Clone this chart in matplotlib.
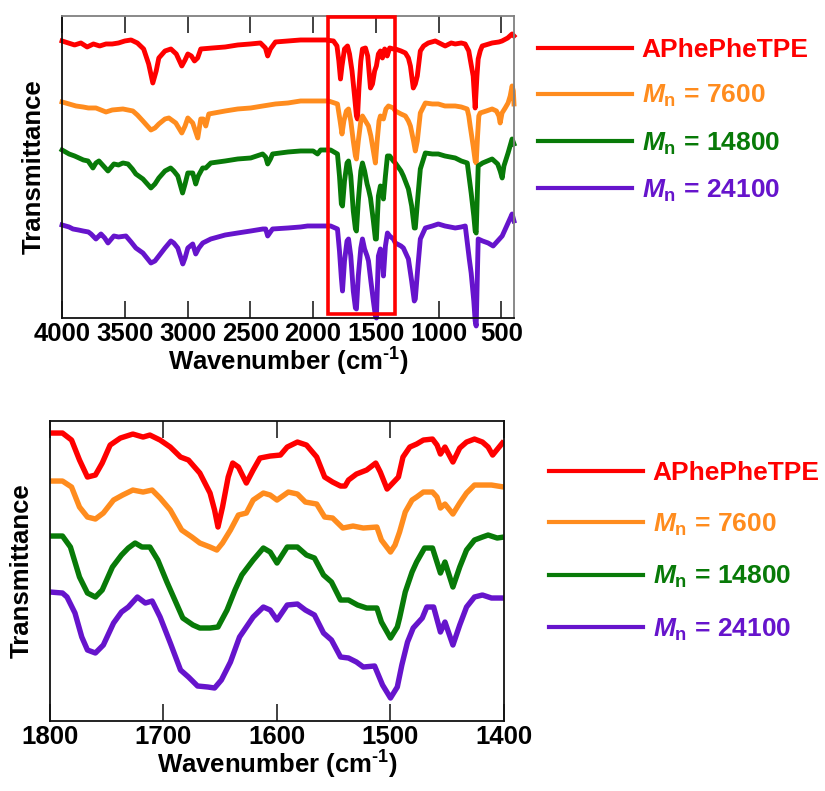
import matplotlib
matplotlib.use("Agg")
import matplotlib.pyplot as plt
from matplotlib.patches import Rectangle
from matplotlib.lines import Line2D
import numpy as np

plt.rcParams["font.family"] = ["Liberation Sans", "DejaVu Sans"]
plt.rcParams["font.weight"] = "bold"
plt.rcParams["mathtext.fontset"] = "custom"
plt.rcParams["mathtext.rm"] = "Liberation Sans:bold"
plt.rcParams["mathtext.bf"] = "Liberation Sans:bold"
plt.rcParams["mathtext.it"] = "Liberation Sans:italic:bold"

# ---- data: stacked FTIR spectra, values = offset depth below frame top (a.u.) ----
labels = ["APhePheTPE", r"$M_\mathrm{n}$ = 7600", r"$M_\mathrm{n}$ = 14800", r"$M_\mathrm{n}$ = 24100"]
colors = ["#FF0000", "#FF8C1E", "#087A08", "#6614CC"]

# full range 4000-400 cm-1
red_full_wn = [4000, 3950, 3900, 3850, 3800, 3750, 3700, 3650, 3600, 3550, 3500, 3450, 3400, 3350, 3310,
               3277, 3250, 3229, 3180, 3133, 3090, 3046, 3020, 2998, 2970, 2945, 2920, 2895, 2800, 2700,
               2600, 2500, 2420, 2380, 2362, 2340, 2300, 2200, 2100, 2000, 1900, 1838, 1810, 1795, 1782,
               1770, 1750, 1726, 1710, 1690, 1670, 1655, 1647, 1635, 1620, 1607, 1583, 1565, 1543, 1527,
               1510, 1496, 1480, 1464, 1448, 1430, 1410, 1390, 1361, 1345, 1300, 1265, 1241, 1225, 1202,
               1186, 1170, 1146, 1120, 1083, 1027, 948, 900, 868, 820, 789, 760, 749, 725, 709,
               695, 685, 669, 653, 600, 574, 520, 495, 450, 415, 400]
red_full = [25, 27, 29, 27, 31, 28, 30, 28, 28, 27, 25, 24, 27, 33, 48,
            67, 55, 42, 35, 33, 38, 50, 44, 38, 40, 45, 42, 33, 32, 31,
            29, 28, 27, 32, 40, 33, 26, 25, 24, 24, 24, 25, 30, 45, 63,
            50, 33, 30, 38, 55, 80, 100, 103, 72, 45, 33, 32, 40, 72, 68,
            55, 50, 38, 35, 42, 33, 40, 32, 33, 33, 35, 37, 42, 50, 72,
            68, 60, 35, 30, 27, 25, 30, 27, 28, 27, 28, 35, 43, 60, 92,
            60, 43, 35, 30, 28, 27, 26, 25, 22, 18, 20]

orange_full_wn = [4000, 3944, 3889, 3833, 3790, 3730, 3690, 3650, 3600, 3515, 3475, 3436, 3400, 3356, 3292,
                  3260, 3229, 3180, 3149, 3094, 3046, 3020, 2998, 2959, 2919, 2895, 2875, 2855, 2831, 2700,
                  2600, 2497, 2400, 2300, 2200, 2100, 2000, 1900, 1877, 1806, 1785, 1770, 1755, 1735, 1718,
                  1700, 1680, 1663, 1655, 1640, 1620, 1607, 1583, 1559, 1540, 1520, 1504, 1490, 1475, 1464,
                  1440, 1420, 1400, 1361, 1345, 1300, 1265, 1241, 1225, 1200, 1186, 1170, 1146, 1106, 1050,
                  1003, 950, 868, 820, 773, 760, 749, 725, 709, 701, 690, 680, 669, 620, 574,
                  540, 520, 510, 495, 470, 447, 430, 415, 405, 400]
orange_full = [86, 88, 90, 91, 92, 92, 94, 96, 94, 93, 94, 95, 99, 105, 114,
               112, 108, 103, 102, 107, 117, 110, 102, 107, 122, 103, 103, 110, 98, 95,
               93, 92, 90, 88, 87, 85, 85, 85, 85, 88, 105, 118, 105, 95, 93,
               105, 125, 140, 143, 125, 105, 100, 105, 110, 120, 135, 147, 125, 105, 100,
               103, 93, 90, 92, 95, 98, 100, 105, 110, 125, 135, 125, 97, 87, 88,
               88, 90, 90, 91, 93, 100, 110, 130, 145, 147, 120, 100, 97, 95, 93,
               95, 100, 107, 97, 92, 87, 80, 70, 75, 88]

green_full_wn = [4000, 3944, 3900, 3865, 3830, 3793, 3754, 3730, 3706, 3670, 3634, 3587, 3550, 3515, 3475,
                 3440, 3412, 3356, 3292, 3260, 3229, 3180, 3135, 3110, 3078, 3040, 3020, 2998, 2959, 2935,
                 2915, 2880, 2855, 2815, 2700, 2600, 2497, 2402, 2378, 2362, 2340, 2323, 2200, 2100, 2000,
                 1965, 1940, 1877, 1861, 1806, 1790, 1775, 1766, 1750, 1730, 1718, 1700, 1680, 1663, 1655,
                 1640, 1620, 1607, 1590, 1570, 1559, 1543, 1520, 1504, 1496, 1480, 1464, 1448, 1440, 1424,
                 1408, 1390, 1361, 1345, 1300, 1281, 1241, 1215, 1194, 1186, 1165, 1146, 1106, 1050, 1003,
                 950, 868, 820, 772, 741, 720, 709, 701, 690, 685, 650, 574, 530, 510, 494,
                 480, 447, 415, 400]
green_full = [134, 138, 140, 142, 144, 145, 152, 147, 145, 150, 155, 148, 149, 147, 148,
              153, 158, 163, 172, 168, 162, 155, 152, 155, 160, 177, 168, 157, 157, 168,
              160, 152, 152, 147, 145, 143, 142, 138, 141, 148, 143, 138, 136, 135, 135,
              138, 134, 134, 134, 138, 160, 188, 190, 165, 147, 145, 160, 195, 213, 215,
              185, 155, 147, 155, 168, 173, 182, 205, 223, 223, 180, 170, 175, 183, 160,
              140, 140, 145, 147, 155, 160, 173, 190, 212, 212, 180, 153, 137, 138, 138,
              140, 142, 145, 147, 177, 200, 215, 217, 170, 150, 147, 143, 148, 155, 162,
              150, 137, 123, 128]

purple_full_wn = [4000, 3944, 3913, 3870, 3833, 3790, 3769, 3730, 3706, 3690, 3660, 3634, 3587, 3550, 3491,
                  3450, 3412, 3356, 3292, 3260, 3229, 3180, 3133, 3110, 3078, 3038, 3020, 2998, 2959, 2935,
                  2910, 2879, 2815, 2700, 2600, 2497, 2400, 2378, 2362, 2340, 2323, 2200, 2100, 2044, 1950,
                  1861, 1806, 1790, 1775, 1766, 1750, 1730, 1718, 1700, 1680, 1663, 1655, 1640, 1620, 1607,
                  1590, 1570, 1559, 1540, 1520, 1504, 1496, 1480, 1464, 1448, 1440, 1424, 1408, 1390, 1361,
                  1345, 1300, 1281, 1241, 1215, 1194, 1186, 1165, 1146, 1106, 1050, 1003, 950, 868, 820,
                  788, 756, 741, 720, 709, 701, 690, 685, 650, 606, 566, 530, 494, 447, 415,
                  400]
purple_full = [209, 211, 213, 214, 215, 216, 218, 223, 220, 218, 222, 227, 220, 221, 220,
               226, 232, 237, 247, 245, 240, 232, 225, 227, 232, 248, 242, 232, 228, 238,
               232, 227, 223, 219, 217, 215, 213, 213, 220, 216, 213, 212, 211, 210, 210,
               210, 213, 235, 262, 275, 245, 225, 223, 240, 275, 292, 293, 260, 232, 223,
               233, 240, 245, 265, 285, 300, 302, 240, 233, 245, 260, 230, 217, 220, 223,
               227, 230, 232, 243, 265, 285, 283, 250, 223, 212, 210, 208, 210, 212, 211,
               210, 243, 257, 285, 305, 310, 250, 223, 225, 227, 230, 225, 220, 207, 198,
               205]

# zoomed range 1800-1400 cm-1
red_zoom_wn = [1800, 1789, 1781, 1774, 1767, 1760, 1754, 1747, 1738, 1727, 1718, 1712, 1703, 1694, 1685,
               1678, 1668, 1659, 1655, 1652, 1648, 1643, 1639, 1634, 1627, 1621, 1615, 1606, 1597, 1591,
               1582, 1574, 1565, 1558, 1551, 1544, 1540, 1537, 1530, 1521, 1513, 1509, 1503, 1498, 1493,
               1489, 1483, 1477, 1471, 1463, 1459, 1456, 1452, 1445, 1439, 1433, 1426, 1419, 1414, 1410,
               1405, 1400]
red_zoom = [12, 12, 19, 39, 56, 54, 42, 24, 17, 13, 16, 14, 19, 26, 36,
            39, 52, 72, 89, 106, 86, 56, 42, 46, 62, 49, 37, 35, 34, 26,
            21, 24, 36, 56, 61, 65, 65, 59, 53, 49, 42, 51, 68, 62, 56,
            36, 26, 23, 19, 18, 24, 33, 26, 41, 27, 21, 18, 21, 26, 34,
            27, 20]

orange_zoom_wn = [1800, 1789, 1781, 1774, 1767, 1760, 1753, 1744, 1736, 1727, 1718, 1710, 1703, 1694, 1684,
                  1675, 1668, 1659, 1653, 1648, 1641, 1634, 1627, 1621, 1612, 1606, 1600, 1590, 1582, 1575,
                  1565, 1558, 1551, 1542, 1533, 1524, 1512, 1508, 1500, 1496, 1492, 1487, 1481, 1477, 1471,
                  1463, 1459, 1456, 1452, 1445, 1439, 1433, 1426, 1417, 1411, 1400]
orange_zoom = [60, 60, 66, 86, 96, 98, 92, 79, 74, 69, 71, 69, 77, 89, 109,
               116, 122, 126, 129, 122, 109, 94, 92, 79, 72, 74, 79, 71, 73, 81,
               83, 96, 97, 107, 105, 107, 106, 119, 131, 124, 111, 91, 79, 76, 71,
               71, 76, 87, 83, 93, 82, 72, 64, 64, 64, 66]

green_zoom_wn = [1800, 1789, 1782, 1774, 1767, 1760, 1754, 1745, 1737, 1731, 1725, 1719, 1712, 1705, 1697,
                 1690, 1683, 1674, 1668, 1659, 1652, 1644, 1637, 1631, 1621, 1612, 1606, 1600, 1591, 1582,
                 1574, 1567, 1559, 1552, 1544, 1537, 1529, 1521, 1512, 1508, 1500, 1494, 1492, 1487, 1481,
                 1477, 1470, 1463, 1456, 1452, 1445, 1439, 1433, 1426, 1419, 1414, 1406, 1400]
green_zoom = [115, 115, 126, 156, 172, 176, 169, 146, 134, 127, 122, 126, 126, 139, 161,
              179, 197, 204, 207, 207, 206, 189, 169, 154, 139, 127, 131, 142, 126, 126,
              134, 137, 154, 161, 179, 179, 184, 187, 187, 201, 217, 206, 197, 171, 151,
              141, 127, 127, 152, 141, 166, 146, 129, 119, 116, 114, 117, 116]

purple_zoom_wn = [1800, 1789, 1785, 1778, 1772, 1767, 1760, 1753, 1744, 1737, 1731, 1723, 1716, 1710, 1703,
                  1694, 1685, 1678, 1670, 1661, 1655, 1649, 1641, 1633, 1621, 1612, 1606, 1600, 1591, 1582,
                  1575, 1567, 1559, 1552, 1544, 1537, 1530, 1524, 1514, 1507, 1500, 1494, 1490, 1485, 1480,
                  1472, 1468, 1462, 1456, 1452, 1445, 1439, 1433, 1426, 1419, 1411, 1400]
purple_zoom = [171, 172, 176, 192, 216, 229, 232, 224, 202, 191, 186, 176, 182, 180, 196,
               222, 249, 256, 265, 266, 267, 259, 241, 216, 196, 186, 189, 199, 184, 183,
               189, 194, 212, 219, 236, 237, 241, 246, 245, 264, 277, 266, 244, 221, 207,
               197, 186, 186, 211, 201, 224, 204, 186, 176, 174, 177, 177]

full_sets = [(red_full_wn, red_full), (orange_full_wn, orange_full),
             (green_full_wn, green_full), (purple_full_wn, purple_full)]
zoom_sets = [(red_zoom_wn, red_zoom), (orange_zoom_wn, orange_zoom),
             (green_zoom_wn, green_zoom), (purple_zoom_wn, purple_zoom)]

fig = plt.figure(figsize=(8.25, 7.91), dpi=100)
ax1 = fig.add_axes([0.0752, 0.598, 0.5478, 0.3818])
ax2 = fig.add_axes([0.0606, 0.0885, 0.5503, 0.3792])


def style_axes(ax, ticks, spine_main, spine_other):
    ax.set_xticks(ticks)
    ax.set_yticks([])
    ax.tick_params(axis="x", direction="in", length=12, width=1.3, top=True,
                   labelsize=18.5, pad=3, color="#333333")
    for lab in ax.get_xticklabels():
        lab.set_fontweight("bold")
    ax.spines["left"].set_color(spine_main)
    ax.spines["bottom"].set_color(spine_main)
    ax.spines["top"].set_color(spine_other)
    ax.spines["right"].set_color(spine_other)
    for s in ax.spines.values():
        s.set_linewidth(1.3)
    ax.set_xlabel(r"Wavenumber (cm$^{\text{-1}}$)", fontsize=18.5, fontweight="bold", labelpad=0)
    ax.set_ylabel("Transmittance", fontsize=18.5, fontweight="bold", labelpad=12)


for (wn, v), c in zip(full_sets, colors):
    ax1.plot(wn, v, color=c, lw=3.5, solid_joinstyle="round", clip_on=False)
ax1.set_xlim(4000, 400)
ax1.set_ylim(302, 0)
style_axes(ax1, [4000, 3500, 3000, 2500, 2000, 1500, 1000, 500], "#111111", "#808080")

# region shown in the lower panel
box = Rectangle((1878, 0.012), 1345 - 1878, 0.983, transform=ax1.get_xaxis_transform(),
                fill=False, edgecolor="#FF0000", lw=2.6, clip_on=False, zorder=5)
ax1.add_patch(box)

for (wn, v), c in zip(zoom_sets, colors):
    ax2.plot(wn, v, color=c, lw=3.9, solid_joinstyle="round", solid_capstyle="butt")
ax2.set_xlim(1800, 1400)
ax2.set_ylim(300, 0)
style_axes(ax2, [1800, 1700, 1600, 1500, 1400], "#111111", "#111111")

handles = [Line2D([], [], color=c, lw=3.0) for c in colors]
for anchor, spacing in [((538 / 825, 1 - 38 / 791), 0.8), ((549 / 825, 1 - 461 / 791), 1.0)]:
    fig.legend(handles, labels, loc="upper left", bbox_to_anchor=anchor, frameon=False,
               prop={"size": 19, "weight": "bold"}, labelcolor="linecolor",
               handlelength=3.55, handletextpad=0.38, labelspacing=spacing,
               borderpad=0, borderaxespad=0)

fig.savefig("out.png", dpi=100)
